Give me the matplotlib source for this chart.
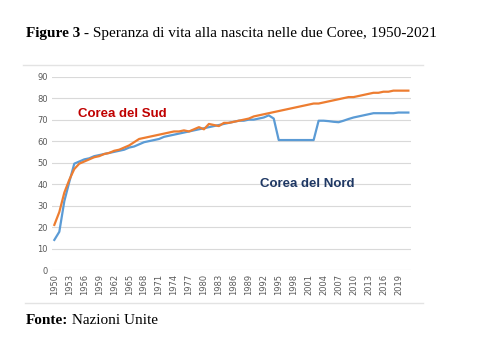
import numpy as np
import matplotlib
matplotlib.use("Agg")
import matplotlib.pyplot as plt
from matplotlib.lines import Line2D

# years 1950-2021
years = list(range(1950, 2022))

# Corea del Sud (orange)
sud = [21, 27, 36, 42, 47, 49.5, 50.5, 51.5, 52.5, 53,
       54, 54.5, 55.5, 56, 57, 58, 59.5, 61, 61.5, 62,
       62.5, 63, 63.5, 64, 64.5, 64.5, 65, 64.5, 65.5, 66.5,
       65.5, 68, 67.5, 67, 68.5, 68.5, 69, 69.5, 70, 70.5,
       71.5, 72, 72.5, 73, 73.5, 74, 74.5, 75, 75.5, 76,
       76.5, 77, 77.5, 77.5, 78, 78.5, 79, 79.5, 80, 80.5,
       80.5, 81, 81.5, 82, 82.5, 82.5, 83, 83, 83.5, 83.5,
       83.5, 83.5]

# Corea del Nord (blue)
nord = [14, 17.8, 32, 41, 49.5, 50.5, 51.5, 52, 53, 53.5,
        54, 54.5, 55, 55.5, 56, 57, 57.5, 58.5, 59.5, 60,
        60.5, 61, 62, 62.5, 63, 63.5, 64, 64.5, 65, 65.5,
        66, 66.5, 67, 67.5, 68, 68.5, 69, 69.5, 69.5, 70,
        70, 70.5, 71, 72, 70.5, 60.5, 60.5, 60.5, 60.5, 60.5,
        60.5, 60.5, 60.5, 69.5, 69.5, 69.3, 69, 68.8, 69.5, 70.3,
        71, 71.5, 72, 72.5, 73, 73, 73, 73, 73, 73.3,
        73.3, 73.3]

tick_years = years[::3]

fig = plt.figure(figsize=(4.8, 3.6), dpi=100)
ax = fig.add_axes([0.108, 0.25, 0.748, 0.537])

x = np.arange(len(years))
ax.plot(x, nord, color='#5B9BD5', lw=1.6, solid_joinstyle='round')
ax.plot(x, sud, color='#ED7D31', lw=1.6, solid_joinstyle='round')

ax.set_xlim(-0.5, len(years) - 0.5)
ax.set_ylim(0, 90)
ax.set_yticks(range(0, 91, 10))
ax.set_xticks(x[::3])
ax.set_xticklabels([str(y) for y in tick_years], rotation=90)
ax.tick_params(axis='both', length=0, labelsize=6, colors='#595959', pad=3)
ax.grid(axis='y', color='#d9d9d9', lw=0.8)
ax.set_axisbelow(True)
for s in ax.spines.values():
    s.set_visible(False)

# labels of the two series
ax.text(4.8, 72.5, 'Corea del Sud', color='#C00000', fontsize=9.5,
        family='Liberation Sans', fontweight='bold', va='center')
ax.text(41.3, 40, 'Corea del Nord', color='#1F3864', fontsize=9.5,
        family='Liberation Sans', fontweight='bold', va='center')

# chart area border (top and bottom)
fig.add_artist(Line2D([23/480, 423/480], [1 - 65/360, 1 - 65/360], color='#e3e3e3', lw=1))
fig.add_artist(Line2D([25/480, 423/480], [1 - 303/360, 1 - 303/360], color='#e3e3e3', lw=1))

# title and source
t = fig.text(26/480, 1 - 33/360, 'Figure 3', fontsize=11, family='Liberation Serif',
             fontweight='bold', va='center')
fig.canvas.draw()
bb = t.get_window_extent()
fig.text(bb.x1 / 480, 1 - 33/360, ' - Speranza di vita alla nascita nelle due Coree, 1950-2021',
         fontsize=11, family='Liberation Serif', va='center')

s = fig.text(26/480, 1 - 321/360, 'Fonte:', fontsize=11, family='Liberation Serif',
             fontweight='bold', va='center')
fig.canvas.draw()
bb = s.get_window_extent()
fig.text(bb.x1 / 480, 1 - 321/360, ' Nazioni Unite', fontsize=11,
         family='Liberation Serif', va='center')

fig.savefig('out.png', dpi=100)
